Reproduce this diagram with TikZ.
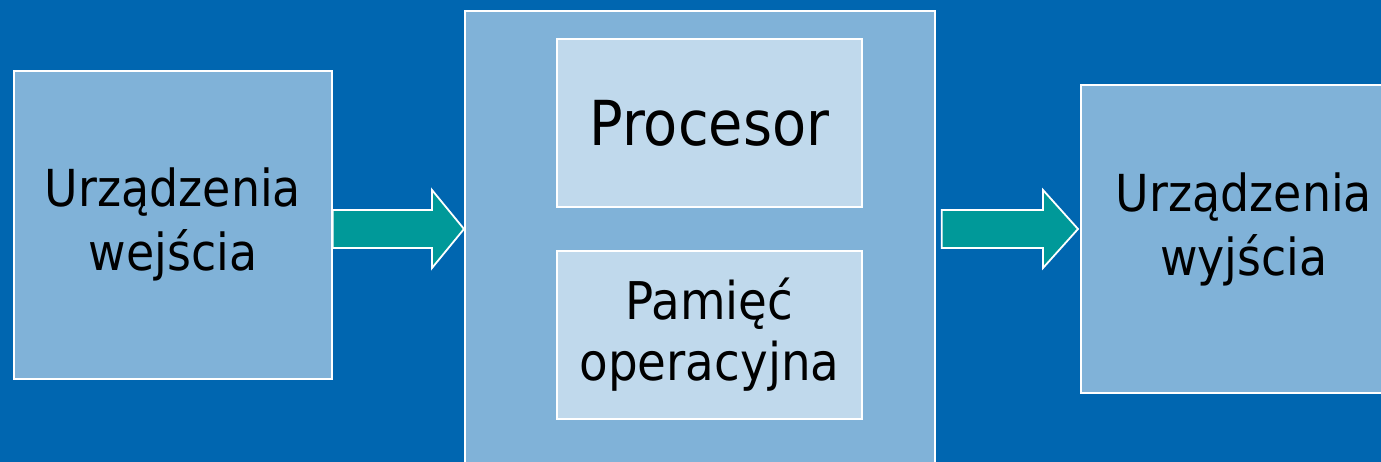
\documentclass[tikz,border=0pt]{standalone}
\usepackage{fontspec}
\setmainfont[FakeStretch=0.9]{DejaVu Sans}
\usepackage{xcolor}
\usepackage{tikz}
\usetikzlibrary{positioning, calc}

\definecolor{slideblue}{RGB}{0,102,176}
\definecolor{boxblue}{RGB}{128,178,216}
\definecolor{innerblue}{RGB}{192,217,236}
\definecolor{arrteal}{RGB}{0,153,153}

\newcommand{\blockarrow}[3]{% tail, tip, head length
  \draw[barr] let \p1=(#1), \p2=(#2) in
    (\x1,\y1+19pt) -- (\x2-#3,\y1+19pt) -- (\x2-#3,\y1+39pt) -- (\x2,\y1)
    -- (\x2-#3,\y1-39pt) -- (\x2-#3,\y1-19pt) -- (\x1,\y1-19pt) -- cycle;
}

\begin{document}
\begin{tikzpicture}[
    x=1pt, y=-1pt,
    bnode/.style={rectangle, draw=white, fill=boxblue, line width=1.8pt, anchor=north west, align=center, inner sep=0pt, font=\fontsize{51}{64}\selectfont},
    inode/.style={bnode, fill=innerblue, minimum width=305pt, minimum height=168pt},
    barr/.style={draw=white, fill=arrteal, line width=1.8pt, line join=miter}
]
\useasboundingbox (0,0) rectangle (1381,462);
\clip (0,0) rectangle (1381,462);
\fill[slideblue] (0,0) rectangle (1381,462);

\node[bnode, minimum width=318pt, minimum height=308pt] (dev_in) at (13,70) {Urządzenia\\wejścia};
\node[bnode, minimum width=470pt, minimum height=480pt] (sys_unit) at (464,10) {};
\node[inode, font=\fontsize{62}{70}\selectfont] (cpu) at (556,38) {Procesor};
\node[inode, font=\fontsize{52}{61}\selectfont] (ram) at (556,250) {Pamięć\\operacyjna};
\node[bnode, minimum width=326pt, minimum height=308pt, text depth=29pt] (dev_out) at (1080,84) {Urządzenia\\wyjścia};

\coordinate (a1_tail) at (dev_in.east |- 0,229);
\coordinate (a1_tip) at (sys_unit.west |- 0,229);
\coordinate (a2_tail) at ($(sys_unit.east |- 0,229)+(6,0)$);
\coordinate (a2_tip) at ($(dev_out.west |- 0,229)+(-2,0)$);

\blockarrow{a1_tail}{a1_tip}{32pt}
\blockarrow{a2_tail}{a2_tip}{35pt}

\end{tikzpicture}
\end{document}
